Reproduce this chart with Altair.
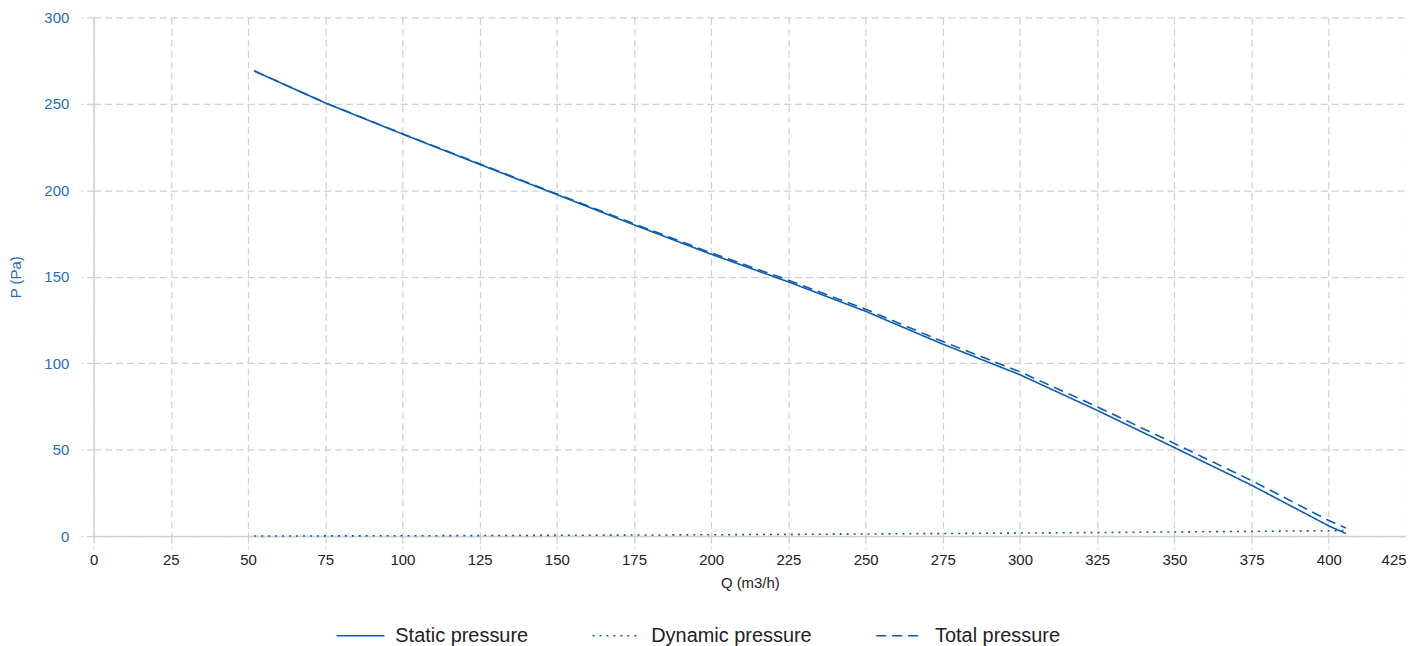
import altair as alt
import pandas as pd

# Flow rate points (m3/h)
flow = [52, 75, 100, 125, 150, 175, 200, 225, 250, 275, 300, 325, 350, 375, 400, 405.5]
# Pressure series (Pa)
static = [269, 250.5, 232.5, 215, 197.5, 180, 163, 147, 130, 111, 93.3, 72.7, 51.2, 29.4, 5.9, 1.5]
dynamic = [0.05, 0.11, 0.2, 0.3, 0.44, 0.6, 0.78, 0.99, 1.22, 1.47, 1.75, 2.06, 2.39, 2.74, 3.12, 3.2]
total = [269.05, 250.6, 232.7, 215.3, 197.9, 180.6, 163.8, 148.0, 131.2, 112.5, 95.0, 74.8, 53.6, 32.1, 9.0, 4.7]

series_names = ["Static pressure", "Dynamic pressure", "Total pressure"]
x_ticks = [0, 25, 50, 75, 100, 125, 150, 175, 200, 225, 250, 275, 300, 325, 350, 375, 400, 425]
y_ticks = [0, 50, 100, 150, 200, 250, 300]

rows = []
for name, vals in zip(series_names, [static, dynamic, total]):
    for q, p in zip(flow, vals):
        rows.append({"Q": q, "P": p, "series": name})
df = pd.DataFrame(rows)

BLUE = "#0b5db3"
LABEL_BLUE = "#1f6cc0"
GRID = "#d0d0d0"
FONT = "Liberation Sans"

chart = (
    alt.Chart(df)
    .mark_line(color=BLUE, strokeWidth=1.6)
    .encode(
        x=alt.X(
            "Q:Q",
            scale=alt.Scale(domain=[0, 425], nice=False, zero=False),
            axis=alt.Axis(
                values=x_ticks,
                title="Q (m3/h)",
                labelFontSize=15,
                labelColor="#222222",
                titleFontSize=15,
                titleFontWeight="normal",
                titleColor="#222222",
                labelPadding=4,
                titlePadding=8,
                labelFlush=False,
                labelAlign=alt.ExprRef("datum.value >= 425 ? 'right' : 'center'"),
            ),
        ),
        y=alt.Y(
            "P:Q",
            scale=alt.Scale(domain=[0, 300], nice=False),
            axis=alt.Axis(
                values=y_ticks,
                title="P (Pa)",
                labelFontSize=15,
                labelColor=LABEL_BLUE,
                titleFontSize=15,
                titleFontWeight="normal",
                titleColor=LABEL_BLUE,
                labelPadding=12,
                titlePadding=20,
            ),
        ),
        strokeDash=alt.StrokeDash(
            "series:N",
            scale=alt.Scale(domain=series_names, range=[[1, 0], [2, 5], [10, 6]]),
            legend=alt.Legend(
                title=None,
                orient="none",
                legendX=243,
                legendY=596,
                direction="horizontal",
                symbolType="stroke",
                symbolSize=2304,
                symbolStrokeWidth=1.6,
                symbolStrokeColor=BLUE,
                labelFontSize=20,
                labelFont=FONT,
                labelColor="#222222",
                labelLimit=400,
                columnPadding=60,
                labelOffset=10,
            ),
        ),
    )
    .properties(
        width=1318,
        height=521,
        padding={"left": 86, "top": 8, "right": 0, "bottom": 109},
        autosize=alt.AutoSizeParams(type="none"),
    )
    .configure_axis(
        labelFont=FONT,
        titleFont=FONT,
        grid=True,
        gridColor=GRID,
        gridDash=[7, 4],
        gridWidth=1.2,
        domainColor=GRID,
        domainWidth=1.5,
        tickColor=GRID,
        tickSize=13,
        tickDash=[7, 4],
        tickWidth=1.2,
    )
    .configure_view(stroke=None)
)

chart.save("out.html", embed_options={"renderer": "svg", "actions": False})
